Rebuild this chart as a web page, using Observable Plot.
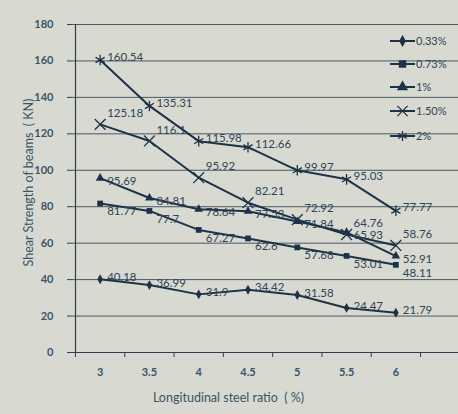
<!DOCTYPE html>
<html><head><meta charset="utf-8">
<script src="https://cdn.jsdelivr.net/npm/d3@7"></script>
<script src="https://cdn.jsdelivr.net/npm/@observablehq/plot@0.6"></script>
<style>
html,body{margin:0;padding:0;background:#d8dad1;}
#chart svg{display:block;}
</style></head>
<body><div id="chart"></div>
<script>
const categories = [3, 3.5, 4, 4.5, 5, 5.5, 6];
const seriesNames = ["0.33%", "0.73%", "1%", "1.50%", "2%"];
const s033 = [40.18, 36.99, 31.9, 34.42, 31.58, 24.47, 21.79];
const s073 = [81.77, 77.7, 67.27, 62.6, 57.68, 53.01, 48.11];
const s1   = [95.69, 84.81, 78.64, 77.53, 71.84, 65.93, 52.91];
const s150 = [125.18, 116.1, 95.92, 82.21, 72.92, 64.76, 58.76];
const s2   = [160.54, 135.31, 115.98, 112.66, 99.97, 95.03, 77.77];
const yTicks = [0, 20, 40, 60, 80, 100, 120, 140, 160, 180];
const xTickLabels = ["3", "3.5", "4", "4.5", "5", "5.5", "6"];
const xBounds = [2.75, 3.25, 3.75, 4.25, 4.75, 5.25, 5.75, 6.25];

const allSeries = [s033, s073, s1, s150, s2];
const symbols = ["diamond", "square", "triangle", "times", "asterisk"];
const labelDy = {"0.33%": -2, "0.73%": 8, "1%": 3, "1.50%": -11, "2%": -3};
const rows = [];
allSeries.forEach((vals, si) => vals.forEach((v, i) => rows.push({series: seriesNames[si], sym: symbols[si], x: categories[i], v})));

const lineC = "#1c3248", textC = "#3a5468", labC = "#2e4354";
const font = "Lato, 'Open Sans', sans-serif";

const labelMarks = seriesNames.map(name =>
  Plot.text(rows.filter(d => d.series === name), {x: "x", y: "v", text: d => String(d.v), dx: 7, dy: labelDy[name], textAnchor: "start", fontSize: 11.5, fill: labC})
);

const svg = Plot.plot({
  width: 458, height: 414,
  marginLeft: 72, marginRight: 0, marginTop: 24, marginBottom: 62,
  style: {background: "#d8dad1", fontFamily: font, color: textC},
  x: {domain: [2.75, 6.25], range: [75, 420]},
  y: {domain: [0, 180], range: [352, 24]},
  marks: [
    Plot.ruleY(yTicks.slice(1), {stroke: "#4a5761", strokeWidth: 1}),
    Plot.ruleY([0], {stroke: "#2c3e4e", strokeWidth: 1.2}),
    Plot.ruleX([2.75], {y1: 0, y2: 180, stroke: "#2c3e4e", strokeWidth: 1.2}),
    Plot.axisY({ticks: yTicks, tickSize: 5, tickPadding: 14, fontSize: 11, fontWeight: "bold", fill: textC, stroke: "#2c3e4e", label: null}),
    Plot.axisX({ticks: xBounds, tickSize: 5, tickFormat: () => "", stroke: "#2c3e4e", label: null}),
    Plot.axisX({ticks: categories, tickSize: 0, tickPadding: 16, fontSize: 11, fontWeight: "bold", fill: textC, tickFormat: (d, i) => xTickLabels[i], label: null}),
    Plot.text(["Longitudinal steel ratio  ( %)"], {frameAnchor: "bottom", lineAnchor: "middle", dx: -37, dy: 45, fontSize: 12.5, fill: textC}),
    Plot.text(["Shear Strength of beams  ( KN)"], {frameAnchor: "left", textAnchor: "middle", lineAnchor: "middle", rotate: -90, dx: -44, dy: -6, fontSize: 12.5, fill: textC}),
    Plot.line(rows, {x: "x", y: "v", z: "series", stroke: lineC, strokeWidth: 2}),
    Plot.dot(rows.filter(d => d.sym === "diamond" || d.sym === "square" || d.sym === "triangle"), {x: "x", y: "v", symbol: "sym", r: d => d.sym === "diamond" ? 3.6 : 4.2, fill: lineC, stroke: "none"}),
    Plot.dot(rows.filter(d => d.sym === "times" || d.sym === "asterisk"), {x: "x", y: "v", symbol: "sym", r: 5, fill: "none", stroke: lineC, strokeWidth: 1.3}),
    ...labelMarks
  ]
});

// legend
const legend = d3.select(svg).append("g").attr("font-family", font).attr("font-size", 11).attr("text-anchor", "start");
const d3sym = {diamond: d3.symbolDiamond, square: d3.symbolSquare, triangle: d3.symbolTriangle, times: d3.symbolTimes, asterisk: d3.symbolAsterisk};
const legendY = [41, 64, 87, 111, 136];
seriesNames.forEach((name, i) => {
  const g = legend.append("g").attr("transform", `translate(390,${legendY[i]})`);
  g.append("line").attr("x1", 0).attr("x2", 25).attr("stroke", lineC).attr("stroke-width", 2);
  const filled = i < 3;
  const size = filled ? (i === 0 ? 40 : 55) : 70;
  g.append("path").attr("d", d3.symbol(d3sym[symbols[i]], size)()).attr("transform", "translate(12.5,0)")
    .attr("fill", filled ? lineC : "none").attr("stroke", filled ? "none" : lineC).attr("stroke-width", 1.3);
  g.append("text").attr("x", 26).attr("dy", "0.35em").attr("text-anchor", "start").attr("fill", labC).text(name);
});

document.getElementById("chart").append(svg);
</script></body></html>
